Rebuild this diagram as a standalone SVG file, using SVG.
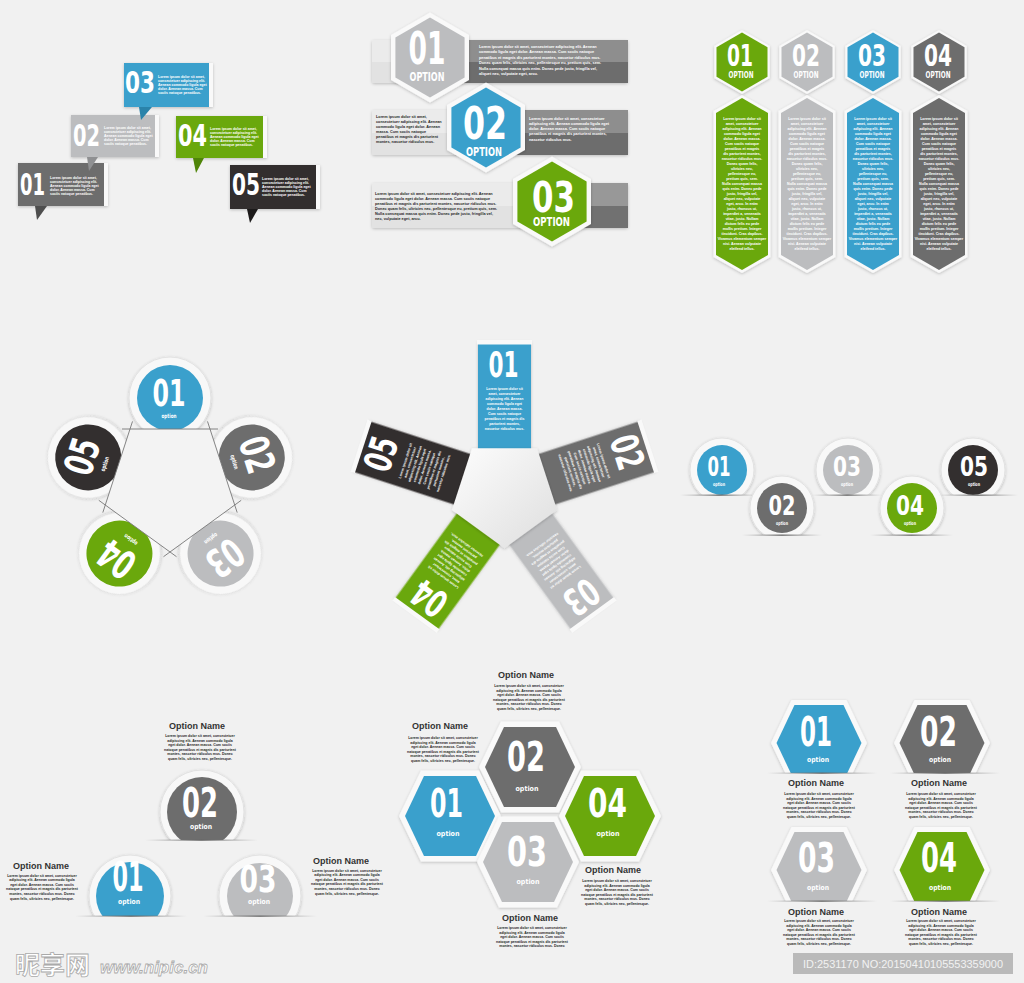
<svg xmlns="http://www.w3.org/2000/svg" width="1024" height="983" viewBox="0 0 1024 983">
<defs>
<style>
.n{font-family:"DejaVu Sans Condensed","DejaVu Sans","Liberation Sans",sans-serif;font-weight:bold;fill:#fff;text-anchor:middle}
.w{font-family:"Liberation Sans",Arial,sans-serif;font-weight:bold;fill:#fff}
.k{font-family:"Liberation Sans",Arial,sans-serif;font-weight:bold;fill:#262626}
.c{text-anchor:middle}
.on{font-family:"Liberation Sans",Arial,sans-serif;font-weight:bold;font-size:9px;fill:#333;text-anchor:middle}
.bl{fill:#3aa0cc}.dg{fill:#6d6d6d}.lg{fill:#bcbdbf}.gr{fill:#6aa80c}.bk{fill:#332f2f}
.ring{fill:#f8f8f8;stroke:#e2e2e2;stroke-width:1}
.wh{fill:#f9f9f9}
.pe{stroke:#777;stroke-width:0.9;fill:none}
</style>
<filter id="sh" x="-25%" y="-25%" width="150%" height="150%"><feDropShadow dx="0" dy="1" stdDeviation="1.6" flood-color="#000" flood-opacity="0.22"/></filter>
<linearGradient id="lgr" x1="0" x2="1" y1="0" y2="0"><stop offset="0" stop-color="#888" stop-opacity="0"/><stop offset="0.5" stop-color="#666"/><stop offset="1" stop-color="#888" stop-opacity="0"/></linearGradient>
<linearGradient id="pg" x1="0" y1="0" x2="1" y2="1"><stop offset="0" stop-color="#fdfdfd"/><stop offset="1" stop-color="#dedede"/></linearGradient>
<clipPath id="c495"><rect width="1024" height="495"/></clipPath>
<clipPath id="c535"><rect width="1024" height="535"/></clipPath>
<clipPath id="c840"><rect width="1024" height="840"/></clipPath>
<clipPath id="c916"><rect width="1024" height="916"/></clipPath>
<clipPath id="c773"><rect width="1024" height="773"/></clipPath>
<clipPath id="c901"><rect width="1024" height="901"/></clipPath>
</defs>
<rect width="1024" height="983" fill="#f1f1f1"/>

<!-- Section 1: speech boxes -->
<g id="s1">
<g id="s1-01" transform="translate(18,163)">
 <g filter="url(#sh)"><rect width="86" height="43" class="dg"/><rect x="86" width="4" height="43" class="wh"/></g>
 <polygon points="17,43 29,43 19,57" fill="#4e4e4e"/>
 <text class="n" x="14.5" y="32" font-size="31" textLength="25" lengthAdjust="spacingAndGlyphs">01</text>
 <g class="w" font-size="3.5"><text x="32" y="15.5">Lorem ipsum dolor sit amet,</text><text x="32" y="19.5">consectetuer adipiscing elit.</text><text x="32" y="23.5">Aenean commodo ligula eget</text><text x="32" y="27.5">dolor. Aenean massa. Cum</text><text x="32" y="31.5">sociis natoque penatibus.</text></g>
</g>
<g id="s1-05" transform="translate(230,165)">
 <g filter="url(#sh)"><rect width="86" height="44" class="bk"/><rect x="86" width="4" height="44" class="wh"/></g>
 <polygon points="17,44 28,44 20,58" fill="#1c1a1a"/>
 <text class="n" x="16" y="30" font-size="31" textLength="28" lengthAdjust="spacingAndGlyphs">05</text>
 <g class="w" font-size="3.5"><text x="32" y="14.5">Lorem ipsum dolor sit amet,</text><text x="32" y="18.5">consectetuer adipiscing elit.</text><text x="32" y="22.5">Aenean commodo ligula eget</text><text x="32" y="26.5">dolor. Aenean massa. Cum</text><text x="32" y="30.5">sociis natoque penatibus.</text></g>
</g>
<g id="s1-02" transform="translate(71,115)">
 <g filter="url(#sh)"><rect width="84" height="42" class="lg"/><rect x="84" width="4" height="42" class="wh"/></g>
 <polygon points="16,42 27,42 18,56" fill="#8f9092"/>
 <text class="n" x="15.5" y="31" font-size="31" textLength="27" lengthAdjust="spacingAndGlyphs">02</text>
 <g class="w" font-size="3.5"><text x="33" y="14">Lorem ipsum dolor sit amet,</text><text x="33" y="18">consectetuer adipiscing elit.</text><text x="33" y="22">Aenean commodo ligula eget</text><text x="33" y="26">dolor. Aenean massa. Cum</text><text x="33" y="30">sociis natoque penatibus.</text></g>
</g>
<g id="s1-04" transform="translate(176,116)">
 <g filter="url(#sh)"><rect width="87" height="42" class="gr"/><rect x="87" width="4" height="42" class="wh"/></g>
 <polygon points="17,42 28,42 20,57" fill="#4f8508"/>
 <text class="n" x="16.5" y="30" font-size="31" textLength="29" lengthAdjust="spacingAndGlyphs">04</text>
 <g class="w" font-size="3.5"><text x="34" y="14">Lorem ipsum dolor sit amet,</text><text x="34" y="18">consectetuer adipiscing elit.</text><text x="34" y="22">Aenean commodo ligula eget</text><text x="34" y="26">dolor. Aenean massa. Cum</text><text x="34" y="30">sociis natoque penatibus.</text></g>
</g>
<g id="s1-03" transform="translate(124,63)">
 <g filter="url(#sh)"><rect width="85" height="44" class="bl"/><rect x="85" width="4" height="44" class="wh"/></g>
 <polygon points="15,44 28,44 17,57" fill="#2a83aa"/>
 <text class="n" x="16" y="30" font-size="30" textLength="30" lengthAdjust="spacingAndGlyphs">03</text>
 <g class="w" font-size="3.5"><text x="34" y="14.5">Lorem ipsum dolor sit amet,</text><text x="34" y="18.5">consectetuer adipiscing elit.</text><text x="34" y="22.5">Aenean commodo ligula eget</text><text x="34" y="26.5">dolor. Aenean massa. Cum</text><text x="34" y="30.5">sociis natoque penatibus.</text></g>
</g>
</g>

<!-- Section 2: hex option bars -->
<g id="s2">
<g id="s2-bar1">
 <rect x="372" y="40" width="256" height="43" rx="2" fill="#ebebeb" filter="url(#sh)"/>
 <rect x="372" y="62" width="68" height="21" fill="#e2e2e2"/>
 <rect x="440" y="40" width="188" height="22" fill="#8e8e8e"/>
 <rect x="440" y="62" width="188" height="21" fill="#6d6d6d"/>
 <g class="w" font-size="3.8"><text x="479" y="47.5">Lorem ipsum dolor sit amet, consectetuer adipiscing elit. Aenean</text><text x="479" y="53">commodo ligula eget dolor. Aenean massa. Cum sociis natoque</text><text x="479" y="58.5">penatibus et magnis dis parturient montes, nascetur ridiculus mus.</text><text x="479" y="64">Donec quam felis, ultricies nec, pellentesque eu, pretium quis, sem.</text><text x="479" y="69.5">Nulla consequat massa quis enim. Donec pede justo, fringilla vel,</text><text x="479" y="75">aliquet nec, vulputate eget, arcu.</text></g>
</g>
<g id="s2-bar2">
 <rect x="372" y="110" width="256" height="45" rx="2" fill="#ebebeb" filter="url(#sh)"/>
 <rect x="372" y="133" width="114" height="22" fill="#e2e2e2"/>
 <rect x="486" y="110" width="142" height="23" fill="#8e8e8e"/>
 <rect x="486" y="133" width="142" height="22" fill="#6d6d6d"/>
 <g class="k" font-size="3.8"><text x="376" y="118">Lorem ipsum dolor sit amet,</text><text x="376" y="123">consectetuer adipiscing elit. Aenean</text><text x="376" y="128">commodo ligula eget dolor. Aenean</text><text x="376" y="133">massa. Cum sociis natoque</text><text x="376" y="138">penatibus et magnis dis parturient</text><text x="376" y="143">montes, nascetur ridiculus mus.</text></g>
 <g class="w" font-size="3.8"><text x="529" y="120">Lorem ipsum dolor sit amet, consectetuer</text><text x="529" y="125">adipiscing elit. Aenean commodo ligula eget</text><text x="529" y="130">dolor. Aenean massa. Cum sociis natoque</text><text x="529" y="135">penatibus et magnis dis parturient montes,</text><text x="529" y="140.5">nascetur ridiculus mus.</text></g>
</g>
<g id="s2-bar3">
 <rect x="372" y="183" width="256" height="45" rx="2" fill="#ebebeb" filter="url(#sh)"/>
 <rect x="372" y="206" width="180" height="22" fill="#e2e2e2"/>
 <rect x="552" y="183" width="76" height="23" fill="#989898"/>
 <rect x="552" y="206" width="76" height="22" fill="#717171"/>
 <g class="k" font-size="3.8"><text x="375" y="195">Lorem ipsum dolor sit amet, consectetuer adipiscing elit. Aenean</text><text x="375" y="200">commodo ligula eget dolor. Aenean massa. Cum sociis natoque</text><text x="375" y="205">penatibus et magnis dis parturient montes, nascetur ridiculus mus.</text><text x="375" y="210">Donec quam felis, ultricies nec, pellentesque eu, pretium quis, sem.</text><text x="375" y="215">Nulla consequat massa quis enim. Donec pede justo, fringilla vel,</text><text x="375" y="220">nec, vulputate eget, arcu.</text></g>
</g>
<g id="s2-01">
 <polygon points="430,12.5 469,35 469,80 430,102.5 391,80 391,35" class="wh" filter="url(#sh)"/>
 <polygon points="430,17.5 464.6,37.5 464.6,77.5 430,97.5 395.4,77.5 395.4,37.5" class="lg"/>
 <text class="n" x="427" y="64" font-size="45" textLength="37" lengthAdjust="spacingAndGlyphs">01</text>
 <text class="n" x="427" y="81" font-size="13" textLength="35" lengthAdjust="spacingAndGlyphs">OPTION</text>
</g>
<g id="s2-02">
 <polygon points="486,82.5 525,105 525,150 486,172.5 447,150 447,105" class="wh" filter="url(#sh)"/>
 <polygon points="486,87.5 520.6,107.5 520.6,147.5 486,167.5 451.4,147.5 451.4,107.5" class="bl"/>
 <text class="n" x="485" y="139" font-size="45" textLength="44" lengthAdjust="spacingAndGlyphs">02</text>
 <text class="n" x="484" y="156" font-size="12.5" textLength="36" lengthAdjust="spacingAndGlyphs">OPTION</text>
</g>
<g id="s2-03">
 <polygon points="552,156.5 591,179 591,224 552,246.5 513,224 513,179" class="wh" filter="url(#sh)"/>
 <polygon points="552,161.5 586.6,181.5 586.6,221.5 552,241.5 517.4,221.5 517.4,181.5" class="gr"/>
 <text class="n" x="553.5" y="212" font-size="43" textLength="43" lengthAdjust="spacingAndGlyphs">03</text>
 <text class="n" x="551.5" y="226" font-size="11.5" textLength="37" lengthAdjust="spacingAndGlyphs">OPTION</text>
</g>
</g>

<!-- Section 3: hexagon columns -->
<g id="s3">
<g id="s3-01" transform="translate(742,0)">
 <polygon points="0,30 27.7,46 27.7,78 0,94 -27.7,78 -27.7,46" class="wh" filter="url(#sh)"/>
 <polygon points="0,32.5 25.5,47.25 25.5,76.75 0,91.5 -25.5,76.75 -25.5,47.25" class="gr"/>
 <text class="n" x="-2" y="66" font-size="30" textLength="26" lengthAdjust="spacingAndGlyphs">01</text>
 <text class="n" x="-1" y="77.5" font-size="8.5" textLength="25" lengthAdjust="spacingAndGlyphs">OPTION</text>
 <polygon points="0,95 28.5,111 28.5,257 0,273 -28.5,257 -28.5,111" class="wh" filter="url(#sh)"/>
 <polygon points="0,98 26,113 26,255 0,270 -26,255 -26,113" class="gr"/>
 <g class="w c" font-size="3.6"><text y="120">Lorem ipsum dolor sit</text><text y="125">amet, consectetuer</text><text y="130">adipiscing elit. Aenean</text><text y="135">commodo ligula eget</text><text y="140">dolor. Aenean massa.</text><text y="145">Cum sociis natoque</text><text y="150">penatibus et magnis</text><text y="155">dis parturient montes,</text><text y="160">nascetur ridiculus mus.</text><text y="165">Donec quam felis,</text><text y="170">ultricies nec,</text><text y="175">pellentesque eu,</text><text y="180">pretium quis, sem.</text><text y="185">Nulla consequat massa</text><text y="190">quis enim. Donec pede</text><text y="195">justo, fringilla vel,</text><text y="200">aliquet nec, vulputate</text><text y="205">eget, arcu. In enim</text><text y="210">justo, rhoncus ut,</text><text y="215">imperdiet a, venenatis</text><text y="220">vitae, justo. Nullam</text><text y="225">dictum felis eu pede</text><text y="230">mollis pretium. Integer</text><text y="235">tincidunt. Cras dapibus.</text><text y="240">Vivamus elementum semper</text><text y="245">nisi. Aenean vulputate</text><text y="250">eleifend tellus.</text></g>
</g>
<g id="s3-02" transform="translate(807,0)">
 <polygon points="0,30 27.7,46 27.7,78 0,94 -27.7,78 -27.7,46" class="wh" filter="url(#sh)"/>
 <polygon points="0,32.5 25.5,47.25 25.5,76.75 0,91.5 -25.5,76.75 -25.5,47.25" class="lg"/>
 <text class="n" x="-1" y="66" font-size="30" textLength="28" lengthAdjust="spacingAndGlyphs">02</text>
 <text class="n" x="-1" y="77.5" font-size="8.5" textLength="25" lengthAdjust="spacingAndGlyphs">OPTION</text>
 <polygon points="0,95 28.5,111 28.5,257 0,273 -28.5,257 -28.5,111" class="wh" filter="url(#sh)"/>
 <polygon points="0,98 26,113 26,255 0,270 -26,255 -26,113" class="lg"/>
 <g class="w c" font-size="3.6"><text y="120">Lorem ipsum dolor sit</text><text y="125">amet, consectetuer</text><text y="130">adipiscing elit. Aenean</text><text y="135">commodo ligula eget</text><text y="140">dolor. Aenean massa.</text><text y="145">Cum sociis natoque</text><text y="150">penatibus et magnis</text><text y="155">dis parturient montes,</text><text y="160">nascetur ridiculus mus.</text><text y="165">Donec quam felis,</text><text y="170">ultricies nec,</text><text y="175">pellentesque eu,</text><text y="180">pretium quis, sem.</text><text y="185">Nulla consequat massa</text><text y="190">quis enim. Donec pede</text><text y="195">justo, fringilla vel,</text><text y="200">aliquet nec, vulputate</text><text y="205">eget, arcu. In enim</text><text y="210">justo, rhoncus ut,</text><text y="215">imperdiet a, venenatis</text><text y="220">vitae, justo. Nullam</text><text y="225">dictum felis eu pede</text><text y="230">mollis pretium. Integer</text><text y="235">tincidunt. Cras dapibus.</text><text y="240">Vivamus elementum semper</text><text y="245">nisi. Aenean vulputate</text><text y="250">eleifend tellus.</text></g>
</g>
<g id="s3-03" transform="translate(873,0)">
 <polygon points="0,30 27.7,46 27.7,78 0,94 -27.7,78 -27.7,46" class="wh" filter="url(#sh)"/>
 <polygon points="0,32.5 25.5,47.25 25.5,76.75 0,91.5 -25.5,76.75 -25.5,47.25" class="bl"/>
 <text class="n" x="-1" y="66" font-size="30" textLength="28" lengthAdjust="spacingAndGlyphs">03</text>
 <text class="n" x="-1" y="77.5" font-size="8.5" textLength="25" lengthAdjust="spacingAndGlyphs">OPTION</text>
 <polygon points="0,95 28.5,111 28.5,257 0,273 -28.5,257 -28.5,111" class="wh" filter="url(#sh)"/>
 <polygon points="0,98 26,113 26,255 0,270 -26,255 -26,113" class="bl"/>
 <g class="w c" font-size="3.6"><text y="120">Lorem ipsum dolor sit</text><text y="125">amet, consectetuer</text><text y="130">adipiscing elit. Aenean</text><text y="135">commodo ligula eget</text><text y="140">dolor. Aenean massa.</text><text y="145">Cum sociis natoque</text><text y="150">penatibus et magnis</text><text y="155">dis parturient montes,</text><text y="160">nascetur ridiculus mus.</text><text y="165">Donec quam felis,</text><text y="170">ultricies nec,</text><text y="175">pellentesque eu,</text><text y="180">pretium quis, sem.</text><text y="185">Nulla consequat massa</text><text y="190">quis enim. Donec pede</text><text y="195">justo, fringilla vel,</text><text y="200">aliquet nec, vulputate</text><text y="205">eget, arcu. In enim</text><text y="210">justo, rhoncus ut,</text><text y="215">imperdiet a, venenatis</text><text y="220">vitae, justo. Nullam</text><text y="225">dictum felis eu pede</text><text y="230">mollis pretium. Integer</text><text y="235">tincidunt. Cras dapibus.</text><text y="240">Vivamus elementum semper</text><text y="245">nisi. Aenean vulputate</text><text y="250">eleifend tellus.</text></g>
</g>
<g id="s3-04" transform="translate(939,0)">
 <polygon points="0,30 27.7,46 27.7,78 0,94 -27.7,78 -27.7,46" class="wh" filter="url(#sh)"/>
 <polygon points="0,32.5 25.5,47.25 25.5,76.75 0,91.5 -25.5,76.75 -25.5,47.25" class="dg"/>
 <text class="n" x="-1" y="66" font-size="30" textLength="28" lengthAdjust="spacingAndGlyphs">04</text>
 <text class="n" x="-1" y="77.5" font-size="8.5" textLength="25" lengthAdjust="spacingAndGlyphs">OPTION</text>
 <polygon points="0,95 28.5,111 28.5,257 0,273 -28.5,257 -28.5,111" class="wh" filter="url(#sh)"/>
 <polygon points="0,98 26,113 26,255 0,270 -26,255 -26,113" class="dg"/>
 <g class="w c" font-size="3.6"><text y="120">Lorem ipsum dolor sit</text><text y="125">amet, consectetuer</text><text y="130">adipiscing elit. Aenean</text><text y="135">commodo ligula eget</text><text y="140">dolor. Aenean massa.</text><text y="145">Cum sociis natoque</text><text y="150">penatibus et magnis</text><text y="155">dis parturient montes,</text><text y="160">nascetur ridiculus mus.</text><text y="165">Donec quam felis,</text><text y="170">ultricies nec,</text><text y="175">pellentesque eu,</text><text y="180">pretium quis, sem.</text><text y="185">Nulla consequat massa</text><text y="190">quis enim. Donec pede</text><text y="195">justo, fringilla vel,</text><text y="200">aliquet nec, vulputate</text><text y="205">eget, arcu. In enim</text><text y="210">justo, rhoncus ut,</text><text y="215">imperdiet a, venenatis</text><text y="220">vitae, justo. Nullam</text><text y="225">dictum felis eu pede</text><text y="230">mollis pretium. Integer</text><text y="235">tincidunt. Cras dapibus.</text><text y="240">Vivamus elementum semper</text><text y="245">nisi. Aenean vulputate</text><text y="250">eleifend tellus.</text></g>
</g>
</g>

<!-- Section 4: circles around pentagon -->
<g id="s4">
<g id="s4-01" transform="translate(170,484) translate(0,-86)">
 <circle r="41" class="ring" filter="url(#sh)"/><circle r="33" class="bl"/>
 <text class="n" x="-1" y="8" font-size="37" textLength="33" lengthAdjust="spacingAndGlyphs">01</text>
 <text class="n" x="-1" y="20" font-size="6" textLength="15" lengthAdjust="spacingAndGlyphs">option</text>
</g>
<g id="s4-02" transform="translate(170,484) rotate(72) translate(0,-86)">
 <circle r="41" class="ring" filter="url(#sh)"/><circle r="33" class="dg"/>
 <text class="n" x="-1" y="8" font-size="40" textLength="36" lengthAdjust="spacingAndGlyphs">02</text>
 <text class="n" x="-1" y="20" font-size="6" textLength="15" lengthAdjust="spacingAndGlyphs">option</text>
</g>
<g id="s4-03" transform="translate(170,484) rotate(144) translate(0,-86)">
 <circle r="41" class="ring" filter="url(#sh)"/><circle r="33" class="lg"/>
 <text class="n" x="-1" y="8" font-size="40" textLength="36" lengthAdjust="spacingAndGlyphs">03</text>
 <text class="n" x="-1" y="20" font-size="6" textLength="15" lengthAdjust="spacingAndGlyphs">option</text>
</g>
<g id="s4-04" transform="translate(170,484) rotate(216) translate(0,-86)">
 <circle r="41" class="ring" filter="url(#sh)"/><circle r="33" class="gr"/>
 <text class="n" x="-1" y="8" font-size="40" textLength="36" lengthAdjust="spacingAndGlyphs">04</text>
 <text class="n" x="-1" y="20" font-size="6" textLength="15" lengthAdjust="spacingAndGlyphs">option</text>
</g>
<g id="s4-05" transform="translate(170,484) rotate(288) translate(0,-86)">
 <circle r="41" class="ring" filter="url(#sh)"/><circle r="33" class="bk"/>
 <text class="n" x="-1" y="8" font-size="40" textLength="36" lengthAdjust="spacingAndGlyphs">05</text>
 <text class="n" x="-1" y="20" font-size="6" textLength="15" lengthAdjust="spacingAndGlyphs">option</text>
</g>
<g id="s4-pent">
 <polygon points="130,429 210,429 234.7,505 170,552 105.3,505" fill="#f3f3f3"/>
 <path class="pe" d="M122,429H218M207.5,421.4L237.2,512.6M241.2,500.3L163.5,556.7M176.5,556.7L98.8,500.3M102.8,512.6L132.5,421.4"/>
</g>
</g>

<!-- Section 5: star strips -->
<g id="s5">
<g id="s5-01" transform="translate(504.5,493)">
 <rect x="-26.5" y="-152" width="53" height="114" class="bl" filter="url(#sh)"/>
 <rect x="-27.5" y="-153" width="55" height="4.5" class="wh"/>
 <text class="n" x="-1" y="-116" font-size="36" textLength="30" lengthAdjust="spacingAndGlyphs">01</text>
 <g class="w c" font-size="3.5"><text y="-103">Lorem ipsum dolor sit</text><text y="-98">amet, consectetuer</text><text y="-93">adipiscing elit. Aenean</text><text y="-88">commodo ligula eget</text><text y="-83">dolor. Aenean massa.</text><text y="-78">Cum sociis natoque</text><text y="-73">penatibus et magnis dis</text><text y="-68">parturient montes,</text><text y="-63">nascetur ridiculus mus.</text></g>
</g>
<g id="s5-02" transform="translate(504.5,493) rotate(72)">
 <rect x="-26.5" y="-152" width="53" height="114" class="dg" filter="url(#sh)"/>
 <rect x="-27.5" y="-153" width="55" height="4.5" class="wh"/>
 <text class="n" x="-1" y="-116" font-size="38" textLength="34" lengthAdjust="spacingAndGlyphs">02</text>
 <g class="w c" font-size="3.5"><text y="-103">Lorem ipsum dolor sit</text><text y="-98">amet, consectetuer</text><text y="-93">adipiscing elit. Aenean</text><text y="-88">commodo ligula eget</text><text y="-83">dolor. Aenean massa.</text><text y="-78">Cum sociis natoque</text><text y="-73">penatibus et magnis dis</text><text y="-68">parturient montes,</text><text y="-63">nascetur ridiculus mus.</text></g>
</g>
<g id="s5-03" transform="translate(504.5,493) rotate(144)">
 <rect x="-26.5" y="-152" width="53" height="114" class="lg" filter="url(#sh)"/>
 <rect x="-27.5" y="-153" width="55" height="4.5" class="wh"/>
 <text class="n" x="-1" y="-116" font-size="38" textLength="34" lengthAdjust="spacingAndGlyphs">03</text>
 <g class="w c" font-size="3.5"><text y="-103">Lorem ipsum dolor sit</text><text y="-98">amet, consectetuer</text><text y="-93">adipiscing elit. Aenean</text><text y="-88">commodo ligula eget</text><text y="-83">dolor. Aenean massa.</text><text y="-78">Cum sociis natoque</text><text y="-73">penatibus et magnis dis</text><text y="-68">parturient montes,</text><text y="-63">nascetur ridiculus mus.</text></g>
</g>
<g id="s5-04" transform="translate(504.5,493) rotate(216)">
 <rect x="-26.5" y="-152" width="53" height="114" class="gr" filter="url(#sh)"/>
 <rect x="-27.5" y="-153" width="55" height="4.5" class="wh"/>
 <text class="n" x="-1" y="-116" font-size="38" textLength="34" lengthAdjust="spacingAndGlyphs">04</text>
 <g class="w c" font-size="3.5"><text y="-103">Lorem ipsum dolor sit</text><text y="-98">amet, consectetuer</text><text y="-93">adipiscing elit. Aenean</text><text y="-88">commodo ligula eget</text><text y="-83">dolor. Aenean massa.</text><text y="-78">Cum sociis natoque</text><text y="-73">penatibus et magnis dis</text><text y="-68">parturient montes,</text><text y="-63">nascetur ridiculus mus.</text></g>
</g>
<g id="s5-05" transform="translate(504.5,493) rotate(288)">
 <rect x="-26.5" y="-152" width="53" height="114" class="bk" filter="url(#sh)"/>
 <rect x="-27.5" y="-153" width="55" height="4.5" class="wh"/>
 <text class="n" x="-1" y="-116" font-size="38" textLength="34" lengthAdjust="spacingAndGlyphs">05</text>
 <g class="w c" font-size="3.5"><text y="-103">Lorem ipsum dolor sit</text><text y="-98">amet, consectetuer</text><text y="-93">adipiscing elit. Aenean</text><text y="-88">commodo ligula eget</text><text y="-83">dolor. Aenean massa.</text><text y="-78">Cum sociis natoque</text><text y="-73">penatibus et magnis dis</text><text y="-68">parturient montes,</text><text y="-63">nascetur ridiculus mus.</text></g>
</g>
<polygon id="s5-pent" points="472,448.3 537,448.3 557.1,510.1 504.5,548.3 451.9,510.1" fill="url(#pg)" filter="url(#sh)"/>
</g>

<!-- Section 6: row of half circles -->
<g id="s6">
<g id="s6-01">
 <g clip-path="url(#c495)"><circle cx="722" cy="470" r="32" class="ring" filter="url(#sh)"/><circle cx="722" cy="470" r="25" class="bl"/></g>
 <rect x="680" y="494.5" width="78" height="1.3" fill="url(#lgr)"/>
 <text class="n" x="719" y="476" font-size="26" textLength="23" lengthAdjust="spacingAndGlyphs">01</text>
 <text class="n" x="719" y="486" font-size="5" textLength="12" lengthAdjust="spacingAndGlyphs">option</text>
</g>
<g id="s6-02">
 <g clip-path="url(#c535)"><circle cx="782" cy="508" r="32" class="ring" filter="url(#sh)"/><circle cx="782" cy="508" r="25" class="dg"/></g>
 <rect x="742" y="534.5" width="80" height="1.3" fill="url(#lgr)"/>
 <text class="n" x="782" y="515" font-size="26" textLength="27" lengthAdjust="spacingAndGlyphs">02</text>
 <text class="n" x="782" y="525" font-size="5" textLength="12" lengthAdjust="spacingAndGlyphs">option</text>
</g>
<g id="s6-03">
 <g clip-path="url(#c495)"><circle cx="848" cy="470" r="32" class="ring" filter="url(#sh)"/><circle cx="848" cy="470" r="25" class="lg"/></g>
 <rect x="812" y="494.5" width="70" height="1.3" fill="url(#lgr)"/>
 <text class="n" x="847" y="476" font-size="26" textLength="28" lengthAdjust="spacingAndGlyphs">03</text>
 <text class="n" x="847" y="486" font-size="5" textLength="12" lengthAdjust="spacingAndGlyphs">option</text>
</g>
<g id="s6-04">
 <g clip-path="url(#c535)"><circle cx="912" cy="508" r="32" class="ring" filter="url(#sh)"/><circle cx="912" cy="508" r="25" class="gr"/></g>
 <rect x="870" y="534.5" width="83" height="1.3" fill="url(#lgr)"/>
 <text class="n" x="910" y="515" font-size="26" textLength="28" lengthAdjust="spacingAndGlyphs">04</text>
 <text class="n" x="910" y="525" font-size="5" textLength="12" lengthAdjust="spacingAndGlyphs">option</text>
</g>
<g id="s6-05">
 <g clip-path="url(#c495)"><circle cx="973" cy="470" r="32" class="ring" filter="url(#sh)"/><circle cx="973" cy="470" r="25" class="bk"/></g>
 <rect x="938" y="494.5" width="80" height="1.3" fill="url(#lgr)"/>
 <text class="n" x="974" y="476" font-size="26" textLength="28" lengthAdjust="spacingAndGlyphs">05</text>
 <text class="n" x="974" y="486" font-size="5" textLength="12" lengthAdjust="spacingAndGlyphs">option</text>
</g>
</g>

<!-- Section 7: three circles -->
<g id="s7">
<g id="s7-02">
 <g clip-path="url(#c840)"><circle cx="202" cy="812" r="42" class="ring" filter="url(#sh)"/><circle cx="202" cy="812" r="35" class="dg"/></g>
 <rect x="145" y="839.5" width="113" height="1.3" fill="url(#lgr)"/>
 <text class="n" x="200" y="817" font-size="41" textLength="36" lengthAdjust="spacingAndGlyphs">02</text>
 <text class="n" x="201" y="829" font-size="7" textLength="22" lengthAdjust="spacingAndGlyphs">option</text>
 <text class="on" x="197" y="729">Option Name</text>
 <g class="k c" font-size="3.5"><text x="200" y="737">Lorem ipsum dolor sit amet, consectetuer</text><text x="200" y="741.6">adipiscing elit. Aenean commodo ligula</text><text x="200" y="746.2">eget dolor. Aenean massa. Cum sociis</text><text x="200" y="750.8">natoque penatibus et magnis dis parturient</text><text x="200" y="755.4">montes, nascetur ridiculus mus. Donec</text><text x="200" y="760">quam felis, ultricies nec, pellentesque.</text></g>
</g>
<g id="s7-01">
 <g clip-path="url(#c916)"><circle cx="130" cy="896" r="41" class="ring" filter="url(#sh)"/><circle cx="130" cy="896" r="34" class="bl"/></g>
 <rect x="75" y="915.5" width="112" height="1.3" fill="url(#lgr)"/>
 <text class="n" x="128" y="891" font-size="40" textLength="31" lengthAdjust="spacingAndGlyphs">01</text>
 <text class="n" x="129" y="904" font-size="7" textLength="22" lengthAdjust="spacingAndGlyphs">option</text>
 <text class="on" x="41" y="869">Option Name</text>
 <g class="k c" font-size="3.5"><text x="42" y="876.5">Lorem ipsum dolor sit amet, consectetuer</text><text x="42" y="881.1">adipiscing elit. Aenean commodo ligula</text><text x="42" y="885.7">eget dolor. Aenean massa. Cum sociis</text><text x="42" y="890.3">natoque penatibus et magnis dis parturient</text><text x="42" y="894.9">montes, nascetur ridiculus mus. Donec</text><text x="42" y="899.5">quam felis, ultricies nec, pellentesque.</text></g>
</g>
<g id="s7-03">
 <g clip-path="url(#c916)"><circle cx="260" cy="896" r="41" class="ring" filter="url(#sh)"/><circle cx="260" cy="896" r="33" class="lg"/></g>
 <rect x="203" y="915.5" width="114" height="1.3" fill="url(#lgr)"/>
 <text class="n" x="258" y="892" font-size="37" textLength="37" lengthAdjust="spacingAndGlyphs">03</text>
 <text class="n" x="259" y="904" font-size="7" textLength="22" lengthAdjust="spacingAndGlyphs">option</text>
 <text class="on" x="341" y="864">Option Name</text>
 <g class="k c" font-size="3.5"><text x="347" y="871.5">Lorem ipsum dolor sit amet, consectetuer</text><text x="347" y="876.1">adipiscing elit. Aenean commodo ligula</text><text x="347" y="880.7">eget dolor. Aenean massa. Cum sociis</text><text x="347" y="885.3">natoque penatibus et magnis dis parturient</text><text x="347" y="889.9">montes, nascetur ridiculus mus. Donec</text><text x="347" y="894.5">quam felis, ultricies nec, pellentesque.</text></g>
</g>
</g>

<!-- Section 8: hexagon cluster -->
<g id="s8">
<g id="s8-02" transform="translate(530,767)">
 <polygon points="-51,0 -29,-45.5 29,-45.5 51,0 29,45.5 -29,45.5" class="wh" filter="url(#sh)"/>
 <polygon points="-45,0 -26,-40 26,-40 45,0 26,40 -26,40" class="dg"/>
 <text class="n" x="-4" y="4" font-size="40" textLength="38" lengthAdjust="spacingAndGlyphs">02</text>
 <text class="n" x="-3" y="24" font-size="7" textLength="23" lengthAdjust="spacingAndGlyphs">option</text>
</g>
<g id="s8-01" transform="translate(450,816)">
 <polygon points="-51,0 -29,-45.5 29,-45.5 51,0 29,45.5 -29,45.5" class="wh" filter="url(#sh)"/>
 <polygon points="-45,0 -26,-40 26,-40 45,0 26,40 -26,40" class="bl"/>
 <text class="n" x="-3.5" y="1" font-size="39" textLength="33" lengthAdjust="spacingAndGlyphs">01</text>
 <text class="n" x="-2" y="20" font-size="7" textLength="23" lengthAdjust="spacingAndGlyphs">option</text>
</g>
<g id="s8-04" transform="translate(610,816)">
 <polygon points="-51,0 -29,-45.5 29,-45.5 51,0 29,45.5 -29,45.5" class="wh" filter="url(#sh)"/>
 <polygon points="-45,0 -26,-40 26,-40 45,0 26,40 -26,40" class="gr"/>
 <text class="n" x="-2.5" y="1" font-size="39" textLength="39" lengthAdjust="spacingAndGlyphs">04</text>
 <text class="n" x="-2" y="20" font-size="7" textLength="23" lengthAdjust="spacingAndGlyphs">option</text>
</g>
<g id="s8-03" transform="translate(528,862)">
 <polygon points="-51,0 -29,-45.5 29,-45.5 51,0 29,45.5 -29,45.5" class="wh" filter="url(#sh)"/>
 <polygon points="-45,0 -26,-40 26,-40 45,0 26,40 -26,40" class="lg"/>
 <text class="n" x="-1" y="4" font-size="41" textLength="40" lengthAdjust="spacingAndGlyphs">03</text>
 <text class="n" x="0" y="22" font-size="7" textLength="23" lengthAdjust="spacingAndGlyphs">option</text>
</g>
<g id="s8-t1"><text class="on" x="526" y="678">Option Name</text>
 <g class="k c" font-size="3.5"><text x="529" y="687">Lorem ipsum dolor sit amet, consectetuer</text><text x="529" y="691.6">adipiscing elit. Aenean commodo ligula</text><text x="529" y="696.2">eget dolor. Aenean massa. Cum sociis</text><text x="529" y="700.8">natoque penatibus et magnis dis parturient</text><text x="529" y="705.4">montes, nascetur ridiculus mus. Donec</text><text x="529" y="710">quam felis, ultricies nec, pellentesque.</text></g></g>
<g id="s8-t2"><text class="on" x="440" y="729">Option Name</text>
 <g class="k c" font-size="3.5"><text x="443" y="739">Lorem ipsum dolor sit amet, consectetuer</text><text x="443" y="743.6">adipiscing elit. Aenean commodo ligula</text><text x="443" y="748.2">eget dolor. Aenean massa. Cum sociis</text><text x="443" y="752.8">natoque penatibus et magnis dis parturient</text><text x="443" y="757.4">montes, nascetur ridiculus mus. Donec</text><text x="443" y="762">quam felis, ultricies nec, pellentesque.</text></g></g>
<g id="s8-t3"><text class="on" x="613" y="873">Option Name</text>
 <g class="k c" font-size="3.5"><text x="617" y="882">Lorem ipsum dolor sit amet, consectetuer</text><text x="617" y="886.6">adipiscing elit. Aenean commodo ligula</text><text x="617" y="891.2">eget dolor. Aenean massa. Cum sociis</text><text x="617" y="895.8">natoque penatibus et magnis dis parturient</text><text x="617" y="900.4">montes, nascetur ridiculus mus. Donec</text><text x="617" y="905">quam felis, ultricies nec, pellentesque.</text></g></g>
<g id="s8-t4"><text class="on" x="530" y="921">Option Name</text>
 <g class="k c" font-size="3.5"><text x="532" y="929">Lorem ipsum dolor sit amet, consectetuer</text><text x="532" y="933.6">adipiscing elit. Aenean commodo ligula</text><text x="532" y="938.2">eget dolor. Aenean massa. Cum sociis</text><text x="532" y="942.8">natoque penatibus et magnis dis parturient</text><text x="532" y="947.4">montes, nascetur ridiculus mus. Donec</text></g></g>
</g>

<!-- Section 9: hexagon grid -->
<g id="s9">
<g id="s9-01">
 <g clip-path="url(#c773)"><polygon points="771,743 791.5,700 846.5,700 867,743 846.5,786 791.5,786" class="wh" filter="url(#sh)"/><polygon points="776.5,743 794.5,705 843.5,705 861.5,743 843.5,781 794.5,781" class="bl"/></g>
 <rect x="767" y="772.5" width="110" height="1.3" fill="url(#lgr)"/>
 <text class="n" x="816" y="746" font-size="40" textLength="32" lengthAdjust="spacingAndGlyphs">01</text>
 <text class="n" x="818" y="762" font-size="7" textLength="22" lengthAdjust="spacingAndGlyphs">option</text>
 <text class="on" x="816" y="786">Option Name</text>
 <g class="k c" font-size="3.5"><text x="819" y="795">Lorem ipsum dolor sit amet, consectetuer</text><text x="819" y="799.6">adipiscing elit. Aenean commodo ligula</text><text x="819" y="804.2">eget dolor. Aenean massa. Cum sociis</text><text x="819" y="808.8">natoque penatibus et magnis dis parturient</text><text x="819" y="813.4">montes, nascetur ridiculus mus. Donec</text><text x="819" y="818">quam felis, ultricies nec, pellentesque.</text></g>
</g>
<g id="s9-02">
 <g clip-path="url(#c773)"><polygon points="894,743 914.5,700 969.5,700 990,743 969.5,786 914.5,786" class="wh" filter="url(#sh)"/><polygon points="899.5,743 917.5,705 966.5,705 984.5,743 966.5,781 917.5,781" class="dg"/></g>
 <rect x="890" y="772.5" width="110" height="1.3" fill="url(#lgr)"/>
 <text class="n" x="938.5" y="746" font-size="40" textLength="37" lengthAdjust="spacingAndGlyphs">02</text>
 <text class="n" x="940" y="762" font-size="7" textLength="22" lengthAdjust="spacingAndGlyphs">option</text>
 <text class="on" x="939" y="786">Option Name</text>
 <g class="k c" font-size="3.5"><text x="941" y="795">Lorem ipsum dolor sit amet, consectetuer</text><text x="941" y="799.6">adipiscing elit. Aenean commodo ligula</text><text x="941" y="804.2">eget dolor. Aenean massa. Cum sociis</text><text x="941" y="808.8">natoque penatibus et magnis dis parturient</text><text x="941" y="813.4">montes, nascetur ridiculus mus. Donec</text><text x="941" y="818">quam felis, ultricies nec, pellentesque.</text></g>
</g>
<g id="s9-03">
 <g clip-path="url(#c901)"><polygon points="771,870 791.5,827 846.5,827 867,870 846.5,913 791.5,913" class="wh" filter="url(#sh)"/><polygon points="776.5,870 794.5,832 843.5,832 861.5,870 843.5,908 794.5,908" class="lg"/></g>
 <rect x="767" y="900.5" width="110" height="1.3" fill="url(#lgr)"/>
 <text class="n" x="816.5" y="872" font-size="40" textLength="37" lengthAdjust="spacingAndGlyphs">03</text>
 <text class="n" x="818" y="890" font-size="7" textLength="22" lengthAdjust="spacingAndGlyphs">option</text>
 <text class="on" x="816" y="915">Option Name</text>
 <g class="k c" font-size="3.5"><text x="819" y="922">Lorem ipsum dolor sit amet, consectetuer</text><text x="819" y="926.6">adipiscing elit. Aenean commodo ligula</text><text x="819" y="931.2">eget dolor. Aenean massa. Cum sociis</text><text x="819" y="935.8">natoque penatibus et magnis dis parturient</text><text x="819" y="940.4">montes, nascetur ridiculus mus. Donec</text><text x="819" y="945">quam felis, ultricies nec, pellentesque.</text></g>
</g>
<g id="s9-04">
 <g clip-path="url(#c901)"><polygon points="894,870 914.5,827 969.5,827 990,870 969.5,913 914.5,913" class="wh" filter="url(#sh)"/><polygon points="899.5,870 917.5,832 966.5,832 984.5,870 966.5,908 917.5,908" class="gr"/></g>
 <rect x="890" y="900.5" width="110" height="1.3" fill="url(#lgr)"/>
 <text class="n" x="939" y="872" font-size="40" textLength="36" lengthAdjust="spacingAndGlyphs">04</text>
 <text class="n" x="940" y="890" font-size="7" textLength="22" lengthAdjust="spacingAndGlyphs">option</text>
 <text class="on" x="939" y="915">Option Name</text>
 <g class="k c" font-size="3.5"><text x="941" y="922">Lorem ipsum dolor sit amet, consectetuer</text><text x="941" y="926.6">adipiscing elit. Aenean commodo ligula</text><text x="941" y="931.2">eget dolor. Aenean massa. Cum sociis</text><text x="941" y="935.8">natoque penatibus et magnis dis parturient</text><text x="941" y="940.4">montes, nascetur ridiculus mus. Donec</text><text x="941" y="945">quam felis, ultricies nec, pellentesque.</text></g>
</g>
</g>

<!-- Watermarks -->
<g id="wm">
 <text x="15" y="974" font-family="Noto Sans CJK SC, sans-serif" font-weight="bold" font-size="25" fill="#ffffff" stroke="#aaaaaa" stroke-width="0.8">昵享网</text>
 <text x="100" y="973" font-family="Liberation Sans, Arial, sans-serif" font-weight="bold" font-style="italic" font-size="17" fill="#ffffff" stroke="#aaaaaa" stroke-width="0.8">www.nipic.cn</text>
 <rect x="793" y="953" width="220" height="21" fill="#bababa"/>
 <text x="803" y="968" font-family="Liberation Sans, Arial, sans-serif" font-size="11" fill="#f2f2f2" textLength="200" lengthAdjust="spacingAndGlyphs">ID:2531170 NO:20150410105553359000</text>
</g>
</svg>
